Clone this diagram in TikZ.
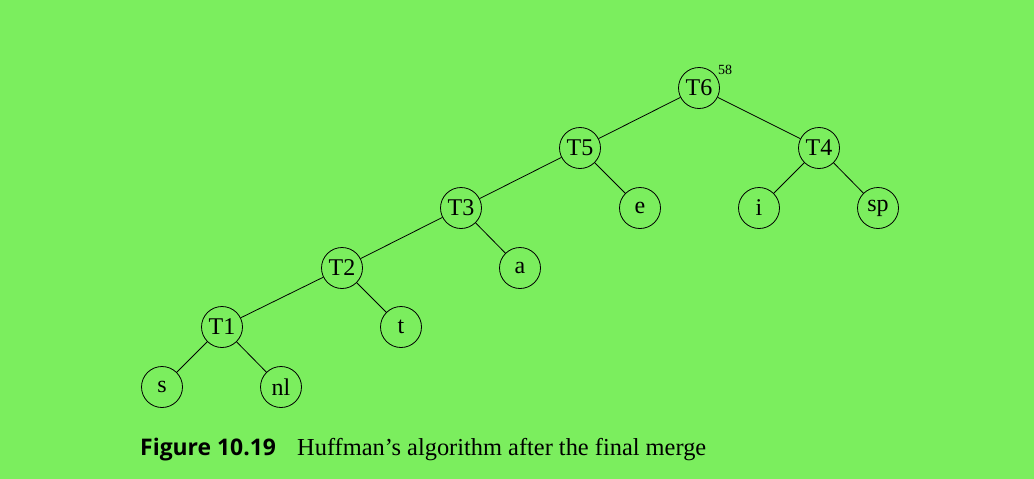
\documentclass[tikz,border=0pt]{standalone}
\usepackage{fontspec}
\setmainfont{Liberation Serif}
\newfontfamily\capsans{Open Sans}
\definecolor{bggreen}{RGB}{123,238,94}
\begin{document}
\begin{tikzpicture}[x=1pt,y=-1pt,
  tnode/.style={circle,draw=black,line width=0.8pt,minimum size=41pt,inner sep=0pt,font=\fontsize{24}{24}\selectfont},
  edge/.style={draw=black,line width=0.8pt}]
\fill[bggreen] (0,0) rectangle (1034,479);
\useasboundingbox (0,0) rectangle (1034,479);
\node[tnode] (T6) at (699,88) {T6};
\node[tnode] (T5) at (580,148) {T5};
\node[tnode] (T4) at (819,148) {T4};
\node[tnode] (T3) at (461,208) {T3};
\node[tnode] (e) at (640,208) {e};
\node[tnode] (i) at (759,208) {i};
\node[tnode] (sp) at (878,208) {sp};
\node[tnode] (T2) at (342,268) {T2};
\node[tnode] (a) at (520,268) {a};
\node[tnode] (T1) at (222,327) {T1};
\node[tnode] (t) at (401,327) {t};
\node[tnode] (s) at (162,387) {s};
\node[tnode] (nl) at (281,387) {nl};
\node[font=\fontsize{14}{14}\selectfont,inner sep=0pt] (w) at (725,70) {58};
\draw[edge] (T6) -- (T5);
\draw[edge] (T6) -- (T4);
\draw[edge] (T5) -- (T3);
\draw[edge] (T5) -- (e);
\draw[edge] (T4) -- (i);
\draw[edge] (T4) -- (sp);
\draw[edge] (T3) -- (T2);
\draw[edge] (T3) -- (a);
\draw[edge] (T2) -- (T1);
\draw[edge] (T2) -- (t);
\draw[edge] (T1) -- (s);
\draw[edge] (T1) -- (nl);
\node[anchor=base west,inner sep=0pt,font=\capsans\bfseries\fontsize{22.9}{23}\selectfont] (fig) at (140,455) {Figure 10.19};
\node[anchor=base west,inner sep=0pt,font=\fontsize{24.4}{24.4}\selectfont] (cap) at (297,455) {Huffman’s algorithm after the final merge};
\end{tikzpicture}
\end{document}
